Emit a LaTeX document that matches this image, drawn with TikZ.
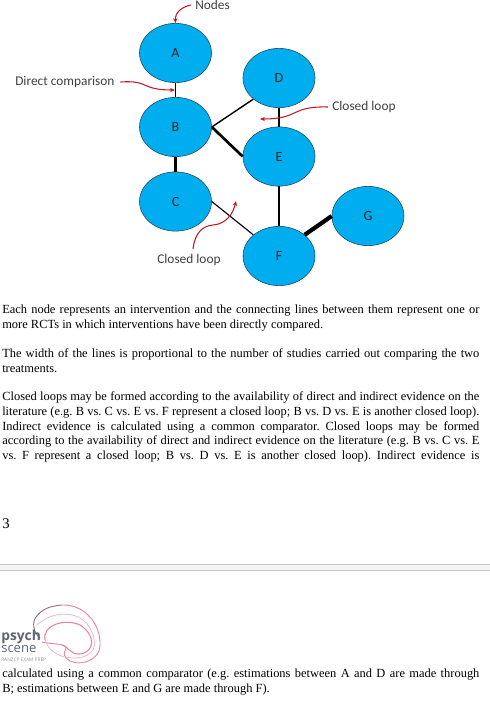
\documentclass[tikz,border=0pt]{standalone}
\usepackage{fontspec}
\setmainfont{Liberation Serif}
\newfontfamily\labelfont{Carlito}
\newfontfamily\logofont{Open Sans}
\definecolor{nodeblue}{RGB}{0,174,239}
\definecolor{nodeedge}{RGB}{30,70,100}
\definecolor{arrowred}{RGB}{190,25,35}
\definecolor{labelgray}{RGB}{64,64,64}
\definecolor{logopink}{RGB}{232,130,160}
\definecolor{logoslate}{RGB}{95,100,120}
\definecolor{logoplum}{RGB}{150,105,140}
\usetikzlibrary{arrows.meta,shapes.geometric}

\begin{document}
\frenchspacing
\begin{tikzpicture}[
    x=0.025cm, y=-0.025cm,
    trial/.style={ellipse, draw=nodeedge, fill=nodeblue, line width=0.4pt, minimum width=1.8cm, minimum height=1.48cm, inner sep=0pt, font=\labelfont\fontsize{10}{11}\selectfont, text=black!85},
    note/.style={font=\labelfont\fontsize{9.5}{10}\selectfont, text=labelgray, inner sep=0pt},
    pointer/.style={arrowred, line width=0.75pt, -{Stealth[length=3.5pt,width=3pt]}},
    para/.style={anchor=north west, inner sep=0pt, text width=11.925cm, align=justify, font=\fontsize{8.85}{10.5}\selectfont}
  ]
    \useasboundingbox (0,0) rectangle (490,711);
    % Network nodes
    \node[trial] (A) at (175.5, 53) {A};
    \node[trial] (B) at (175.5, 127) {B};
    \node[trial] (C) at (175.5, 201.5) {C};
    \node[trial] (D) at (279, 78) {D};
    \node[trial] (E) at (279, 156.5) {E};
    \node[trial] (F) at (279, 256) {F};
    \node[trial] (G) at (368, 216) {G};
    % Connecting lines
    \draw[line width=1pt] (A) -- (B);
    \draw[line width=2.2pt] (B) -- (C);
    \draw[line width=1pt] (B.east) -- (D.south west);
    \draw[line width=1.9pt] (B.east) -- (E.west);
    \draw[line width=1pt] (D) -- (E);
    \draw[line width=0.8pt] (E) -- (F);
    \draw[line width=0.8pt] (C.east) -- (F.north west);
    \draw[line width=3pt] (F.north east) -- (G.west);
    % Labels
    \node[note, anchor=west] (lnodes) at (195, 5) {Nodes};
    \node[note, anchor=west] (ldirect) at (15, 82) {Direct comparison};
    \node[note, anchor=west] (lloopa) at (332, 107) {Closed loop};
    \node[note, anchor=west] (lloopb) at (157, 260) {Closed loop};
    \coordinate (tipdirect) at (175, 90);
    \coordinate (tiploopa) at (260, 119);
    \coordinate (tiploopb) at (236, 201);
    \coordinate (startloopb) at (193, 249);
    % Red pointers
    \draw[pointer] ([xshift=-3pt]lnodes.west) .. controls (182, 7) and (175, 12) .. (A.north);
    \draw[pointer] ([xshift=4pt]ldirect.east) .. controls (150, 80) and (140, 90) .. (tipdirect);
    \draw[pointer] ([xshift=-3pt]lloopa.west) .. controls (290, 106) and (300, 119) .. (tiploopa);
    \draw[pointer] (startloopb) .. controls (195, 232) and (203, 226) .. (213, 225) .. controls (226, 224) and (233, 214) .. (tiploopb);
    % Body text
    \node[para] (pone) at (2, 304.5) {Each node represents an intervention and the connecting lines between them represent one or\linebreak more RCTs in which interventions have been directly compared.};
    \node[para] (ptwo) at (2, 348.5) {The width of the lines is proportional to the number of studies carried out comparing the two\linebreak treatments.};
    \node[para] (pthree) at (2, 391.5) {Closed loops may be formed according to the availability of direct and indirect evidence on the\linebreak literature (e.g. B vs. C vs. E vs. F represent a closed loop; B vs. D vs. E is another closed loop).\linebreak Indirect evidence is calculated using a common comparator. Closed loops may be formed\linebreak according to the availability of direct and indirect evidence on the literature (e.g. B vs. C vs. E\linebreak vs. F represent a closed loop; B vs. D vs. E is another closed loop). Indirect evidence is\linebreak};
    \node[anchor=west, inner sep=0pt, font=\fontsize{10.5}{12}\selectfont] (pageno) at (2, 523.5) {3};
    % Page break band
    \fill[black!4] (0, 564) rectangle (490, 570);
    \draw[black!22, line width=0.5pt] (0, 564) -- (490, 564);
    \draw[black!22, line width=0.5pt] (0, 570) -- (490, 570);
    % Logo
    \draw[logoplum, line width=0.65pt] (40, 638) .. controls (33, 632) and (32, 622) .. (36, 617) .. controls (42, 609) and (50, 606) .. (62, 605);
    \draw[logopink, line width=0.65pt] (62, 605) .. controls (85, 604) and (101, 625) .. (100, 645) .. controls (100, 662) and (75, 668) .. (66, 658) .. controls (60, 650) and (72, 648) .. (62, 645) .. controls (55, 643) and (50, 644) .. (42, 642);
    \draw[logopink!60, line width=0.55pt] (37, 625) .. controls (50, 612) and (78, 608) .. (90, 628) .. controls (99, 645) and (95, 657) .. (75, 658) .. controls (55, 658) and (48, 648) .. (45, 640);
    \draw[logopink, line width=0.75pt] (45, 640) .. controls (42, 625) and (65, 618) .. (80, 625) .. controls (96, 635) and (95, 652) .. (80, 654) .. controls (70, 655) and (68, 646) .. (62, 645);
    \node[anchor=west, inner sep=0pt, text=logoslate, font=\logofont\bfseries\fontsize{9.8}{10}\selectfont] (psych) at (1, 637) {psych};
    \node[anchor=west, inner sep=0pt, text=logoslate, font=\logofont\fontsize{9.3}{10}\selectfont] (scene) at (1, 649) {scene};
    \node[anchor=west, inner sep=0pt, text=logoslate!70, font=\logofont\fontsize{3.4}{4}\selectfont] (exam) at (1, 659.5) {RANZCP EXAM PREP};
    \node[para] (pfour) at (2, 668.5) {calculated using a common comparator (e.g. estimations between A and D are made through\linebreak B; estimations between E and G are made through F).};
  \end{tikzpicture}
\end{document}
